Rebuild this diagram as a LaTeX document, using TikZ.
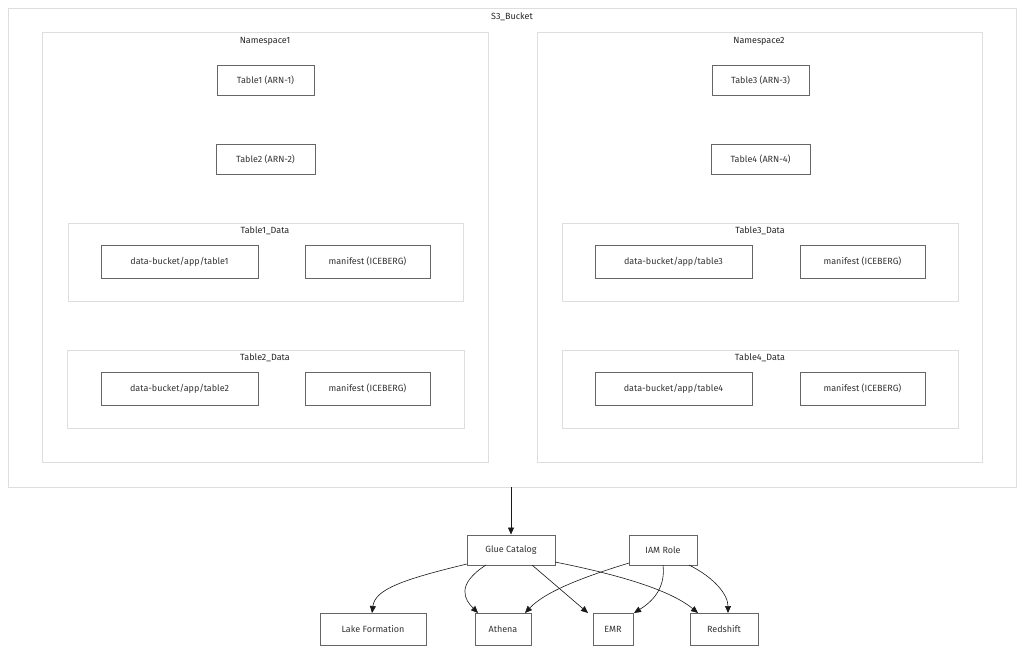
\documentclass[tikz,border=0pt]{standalone}
\usepackage{fontspec}
\setmainfont{Fira Sans}
\usetikzlibrary{arrows.meta}
\begin{document}
\begin{tikzpicture}[x=1pt,y=-1pt,
  box/.style={draw=black!60,line width=0.9pt,fill=white,font=\fontsize{9}{10}\selectfont,text=black!80,inner sep=0pt},
  cont/.style={draw=black!13,line width=0.8pt},
  ttl/.style={font=\fontsize{9}{10}\selectfont,text=black!85},
  e/.style={-{Triangle[length=7pt,width=6pt]},line width=0.6pt,black!90}]
\useasboundingbox (0,0) rectangle (1024,652);
\draw[cont] (8,8) rectangle (1016,487);
\node[ttl] (t0) at (512,17) {S3\_Bucket};
\draw[cont] (42,32) rectangle (488,462);
\node[ttl] (t1) at (265,41) {Namespace1};
\draw[cont] (537,32) rectangle (982,462);
\node[ttl] (t2) at (759,41) {Namespace2};
\draw[cont] (68,223) rectangle (463,301);
\node[ttl] (t3) at (265,231) {Table1\_Data};
\draw[cont] (67,350) rectangle (464,428);
\node[ttl] (t4) at (265,358) {Table2\_Data};
\draw[cont] (562,223) rectangle (958,301);
\node[ttl] (t5) at (760,231) {Table3\_Data};
\draw[cont] (562,350) rectangle (958,428);
\node[ttl] (t6) at (760,358) {Table4\_Data};
\newcommand{\bx}[6]{\node[box,minimum width=#4pt,minimum height=#5pt] (#1) at (#2,#3) {#6};}
\bx{a1}{265.5}{80}{97}{30}{Table1 (ARN-1)}
\bx{a2}{265.5}{159}{99}{30}{Table2 (ARN-2)}
\bx{a3}{760.5}{80}{97}{30}{Table3 (ARN-3)}
\bx{a4}{760.5}{159}{99}{30}{Table4 (ARN-4)}
\bx{d1}{179.5}{261.5}{157}{33}{data-bucket/app/table1}
\bx{m1}{367.5}{261.5}{125}{33}{manifest (ICEBERG)}
\bx{d2}{179.5}{388.5}{157}{33}{data-bucket/app/table2}
\bx{m2}{367.5}{388.5}{125}{33}{manifest (ICEBERG)}
\bx{d3}{673.5}{261.5}{157}{33}{data-bucket/app/table3}
\bx{m3}{862.5}{261.5}{125}{33}{manifest (ICEBERG)}
\bx{d4}{673.5}{388.5}{157}{33}{data-bucket/app/table4}
\bx{m4}{862.5}{388.5}{125}{33}{manifest (ICEBERG)}
\bx{glue}{511}{550}{88}{30}{Glue Catalog}
\bx{iam}{663}{550}{68}{30}{IAM Role}
\bx{lake}{373}{629}{106}{32}{Lake Formation}
\bx{ath}{503}{629}{56}{32}{Athena}
\bx{emr}{613}{629}{40}{32}{EMR}
\bx{red}{724}{629}{68}{32}{Redshift}
\coordinate (s3b) at (511,487);
\draw[e] (s3b) -- (glue.north);
\draw[e] (467,564) .. controls (400,580) and (375,590) .. (372,613);
\draw[e] (486,565) .. controls (455,585) and (465,600) .. (478,613);
\draw[e] (532,565) -- (588,613);
\draw[e] (555,562) .. controls (620,575) and (670,590) .. (698,613);
\draw[e] (629,563) .. controls (580,578) and (545,592) .. (525,613);
\draw[e] (663,565) .. controls (666,590) and (650,603) .. (634,613);
\draw[e] (689,565) .. controls (715,578) and (728,595) .. (728,613);
\end{tikzpicture}
\end{document}
